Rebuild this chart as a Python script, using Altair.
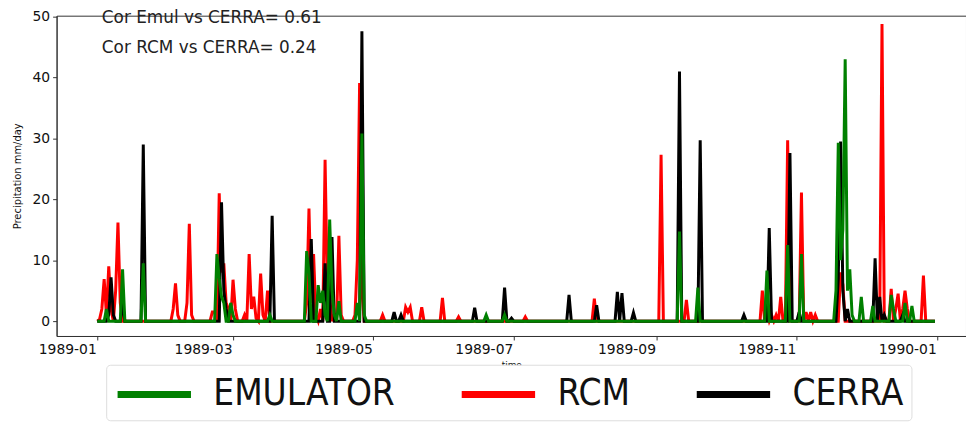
import altair as alt
import pandas as pd

# ---- data ----
start_date = "1989-01-01"
n_days = 365

rcm_day = [1, 2, 3, 4, 5, 6, 8, 9, 10, 33, 34, 35, 39, 40, 41, 50, 51, 53, 54, 55, 56, 57, 59, 60,
           64, 66, 67, 68, 69, 71, 72, 74, 91, 92, 93, 94, 95, 97, 99, 100, 101, 103, 105, 106,
           112, 113, 114, 115, 124, 134, 135, 136, 141, 150, 157, 186, 216, 245, 256, 289, 291,
           293, 295, 297, 300, 306, 308, 310, 312, 323, 324, 341, 345, 347, 348, 350, 351, 352, 359]
rcm_val = [0.3, 2.0, 6.9, 1.0, 9.0, 2.0, 5.0, 16.2, 3.0, 2.0, 6.2, 1.0, 3.0, 16.0, 1.0, 1.5, 1.5, 21.0, 8.0, 9.5, 3.0, 2.0, 6.8, 2.0,
           1.0, 11.0, 2.0, 4.0, 0.5, 7.8, 1.0, 5.0, 3.0, 18.5, 3.0, 11.0, 1.0, 2.0, 26.5, 5.0, 4.0, 1.0, 14.0, 1.0,
           1.0, 10.0, 39.1, 5.0, 1.0, 2.3, 1.5, 2.3, 2.3, 3.8, 0.7, 0.7, 3.7, 27.3, 3.5, 5.0, 1.5,
           1.0, 1.0, 4.0, 29.7, 21.1, 1.5, 1.5, 1.0, 8.0, 6.0, 48.8, 5.3, 2.0, 4.5, 2.0, 5.0, 2.0, 7.5]

cerra_day = [5, 6, 7, 11, 20, 54, 55, 56, 76, 93, 99, 102, 115, 129, 132, 164, 177, 180, 205, 217,
             226, 228, 233, 253, 262, 281, 292, 301, 305, 322, 323, 324, 326, 338, 340, 342, 350]
cerra_val = [1.0, 7.2, 1.0, 3.0, 29.0, 19.5, 5.0, 2.0, 17.3, 13.5, 9.5, 13.8, 47.6, 1.5, 1.0, 2.2, 5.5, 0.5, 4.3, 2.6,
             4.8, 4.6, 1.4, 41.0, 29.7, 1.0, 15.3, 27.6, 1.5, 7.0, 29.5, 5.0, 2.0, 10.3, 4.0, 1.0, 1.0]

emul_day = [4, 11, 20, 52, 53, 54, 55, 58, 59, 75, 91, 92, 96, 97, 98, 99, 101, 102, 103, 105,
            113, 115, 116, 169, 177, 253, 261, 291, 300, 306, 321, 322, 323, 324, 325, 326, 327, 328,
            332, 337, 345, 346, 351, 354]
emul_val = [2.0, 8.5, 9.5, 11.0, 7.0, 4.0, 3.0, 3.0, 1.0, 1.0, 11.5, 8.0, 5.9, 3.0, 5.0, 1.0, 16.7, 5.0, 1.0, 3.3,
            3.0, 30.8, 1.0, 1.0, 1.0, 14.7, 5.5, 8.3, 12.5, 11.0, 5.0, 29.3, 10.0, 15.0, 43.0, 5.0, 8.5, 1.0,
            4.0, 2.5, 4.3, 2.0, 3.0, 2.5]

series_names = ["EMULATOR", "RCM", "CERRA"]
series_colors = ["#008000", "#ff0000", "#000000"]

tick_dates = ["1989-01-01", "1989-03-01", "1989-05-01", "1989-07-01", "1989-09-01", "1989-11-01", "1990-01-01"]
y_ticks = [0, 10, 20, 30, 40, 50]

note_text = ["Cor Emul vs CERRA= 0.61", "Cor RCM vs CERRA= 0.24"]
note_date = ["1989-01-03", "1989-01-03"]
note_y = [49.84, 44.79]

# ---- build tables ----
dates = pd.date_range(start_date, periods=n_days, freq="D")
date_str = [d.strftime("%Y-%m-%d") for d in dates]


def expand(days, vals):
    full = [0.0] * n_days
    for d, v in zip(days, vals):
        full[d] = v
    return full


rows = []
for name, dd, vv in [("RCM", rcm_day, rcm_val), ("CERRA", cerra_day, cerra_val), ("EMULATOR", emul_day, emul_val)]:
    for ds, v in zip(date_str, expand(dd, vv)):
        rows.append({"time": ds, "value": v, "series": name})
df = pd.DataFrame(rows)

notes = pd.DataFrame({"time": note_date, "value": note_y, "text": note_text})


def ms(s):
    return int(pd.Timestamp(s, tz="UTC").value // 10**6)


x_scale = alt.Scale(type="utc", domain=[ms("1988-12-14 08:00"), ms("1990-01-13 12:00")], nice=False)
y_scale = alt.Scale(domain=[-2.44, 50.16], nice=False, zero=False)

x_enc = alt.X("time:T", scale=x_scale,
              axis=alt.Axis(values=[ms(t) for t in tick_dates],
                            labelExpr="utcFormat(datum.value, '%Y-%m')",
                            labelAlign="right", labelOffset=-1,
                            title="time", titleFontSize=9, titleFontWeight="normal", titlePadding=4,
                            labelFontSize=14, tickSize=4, labelPadding=3, grid=False))
y_enc = alt.Y("value:Q", scale=y_scale,
              axis=alt.Axis(values=y_ticks, title="Precipitation mm/day", titleFontSize=10,
                            titleFontWeight="normal", titlePadding=10, labelFontSize=14,
                            tickSize=4, labelPadding=3, grid=False))

color_enc = alt.Color("series:N",
                      scale=alt.Scale(domain=series_names, range=series_colors),
                      legend=alt.Legend(orient="none", legendX=50, legendY=352, direction="horizontal",
                                        title=None, symbolType="M-1,0H3", symbolSize=1369,
                                        symbolStrokeWidth=7, labelFontSize=37,
                                        labelFont="DejaVu Sans Condensed, Liberation Sans Narrow, sans-serif",
                                        labelOffset=56, columnPadding=52, padding=8,
                                        strokeColor="#dddddd", fillColor="white", cornerRadius=4,
                                        labelColor="#111111", labelLimit=400))

layers = []
for name in ["RCM", "CERRA", "EMULATOR"]:
    layers.append(
        alt.Chart(df).transform_filter(alt.datum.series == name)
        .mark_line(strokeWidth=3, clip=True)
        .encode(x=x_enc, y=y_enc, color=color_enc)
    )

text_layer = alt.Chart(notes).mark_text(align="left", baseline="middle", fontSize=17,
                                        font="DejaVu Sans", color="#222222").encode(
    x=alt.X("time:T", scale=x_scale), y=alt.Y("value:Q", scale=y_scale), text="text:N")

chart = alt.layer(*layers, text_layer).properties(
    width=917, height=323,
    autosize=alt.AutoSizeParams(type="none"),
    padding={"left": 49, "top": 6, "right": 0, "bottom": 88},
).configure_view(stroke="#333333", strokeWidth=1).configure_axis(
    domainColor="#333333", tickColor="#333333", labelColor="#111111", titleColor="#111111",
    labelFont="DejaVu Sans", titleFont="DejaVu Sans"
)

chart.save("out.html", embed_options={"renderer": "svg", "actions": False})
